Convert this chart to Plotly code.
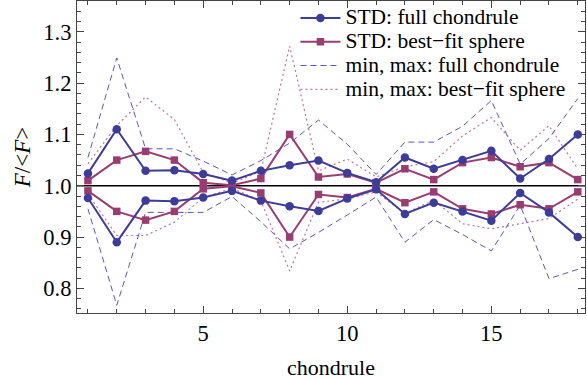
import plotly.graph_objects as go

# chondrule index
chondrule = list(range(1, 19))

# standard deviation of F/<F> (full chondrule vs best-fit sphere)
std_full = [0.024, 0.110, 0.029, 0.030, 0.023, 0.010, 0.029, 0.040, 0.049,
            0.025, 0.007, 0.055, 0.033, 0.050, 0.068, 0.014, 0.052, 0.100]
std_sphere = [0.010, 0.050, 0.067, 0.050, 0.006, 0.001, 0.014, 0.100, 0.017,
              0.023, 0.006, 0.033, 0.012, 0.045, 0.055, 0.037, 0.045, 0.012]

# extreme values of F/<F>
max_full = [1.055, 1.249, 1.072, 1.072, 1.048, 1.021, 1.049, 1.083, 1.128,
            1.081, 1.022, 1.085, 1.085, 1.116, 1.166, 1.042, 1.092, 1.170]
min_full = [0.955, 0.767, 0.948, 0.948, 0.948, 0.979, 0.930, 0.877, 0.909,
            0.943, 0.978, 0.890, 0.934, 0.905, 0.873, 0.962, 0.819, 0.837]
max_sphere = [1.043, 1.117, 1.173, 1.129, 1.026, 1.005, 1.028, 1.272, 1.029,
              1.052, 1.017, 1.037, 1.047, 1.097, 1.133, 1.069, 1.117, 1.033]
min_sphere = [0.984, 0.903, 0.903, 0.929, 0.977, 0.995, 0.971, 0.834, 0.968,
              0.974, 0.988, 0.946, 0.972, 0.926, 0.916, 0.926, 0.936, 0.974]

legend_names = ["STD: full chondrule", "STD: best\u2212fit sphere",
                "min, max: full chondrule", "min, max: best\u2212fit sphere"]

BLUE = "#3d3d99"
PURPLE = "#993d71"
FONT = "Liberation Serif"


def entry(label):
    # larger glyphs inside a compact legend row
    return '<span style="font-size:21.5px">' + label + "</span>"


fig = go.Figure()

# min/max envelopes
for i, ys in enumerate([max_full, min_full]):
    fig.add_trace(go.Scatter(
        x=chondrule, y=ys, mode="lines", name=entry(legend_names[2]),
        legendgroup="mmfull", showlegend=(i == 0), legendrank=3,
        line=dict(color="rgba(58,58,170,0.85)", width=1, dash="6px,4px")))
for i, ys in enumerate([max_sphere, min_sphere]):
    fig.add_trace(go.Scatter(
        x=chondrule, y=ys, mode="lines", name=entry(legend_names[3]),
        legendgroup="mmsph", showlegend=(i == 0), legendrank=4,
        line=dict(color="rgba(170,70,125,0.75)", width=1.2, dash="2px,3px")))

# 1 +/- sigma curves
for i, sgn in enumerate([1, -1]):
    fig.add_trace(go.Scatter(
        x=chondrule, y=[1 + sgn * s for s in std_sphere], mode="lines+markers",
        name=entry(legend_names[1]), legendgroup="stdsph", showlegend=(i == 0),
        legendrank=2, line=dict(color=PURPLE, width=2),
        marker=dict(symbol="square", size=7.5, color=PURPLE)))
for i, sgn in enumerate([1, -1]):
    fig.add_trace(go.Scatter(
        x=chondrule, y=[1 + sgn * s for s in std_full], mode="lines+markers",
        name=entry(legend_names[0]), legendgroup="stdfull", showlegend=(i == 0),
        legendrank=1, line=dict(color=BLUE, width=2),
        marker=dict(symbol="circle", size=8.5, color=BLUE)))

fig.add_hline(y=1.0, line=dict(color="black", width=1.3), layer="below")

axis_common = dict(
    showgrid=False, zeroline=False, showline=True, linecolor="#444",
    linewidth=1.2, mirror="allticks", ticks="inside", tickcolor="#444",
    tickfont=dict(family=FONT, size=22.5, color="black"),
)

fig.update_xaxes(
    range=[0.62, 18.25], tickmode="array", tickvals=[5, 10, 15], ticklen=7,
    minor=dict(ticks="inside", dtick=1, tick0=0, ticklen=4, tickcolor="#444"),
    title=dict(text="chondrule", font=dict(family=FONT, size=22, color="black"),
               standoff=14),
    **axis_common)
fig.update_yaxes(
    range=[0.752, 1.36], tickmode="array",
    tickvals=[0.8, 0.9, 1.0, 1.1, 1.2, 1.3], tickformat=".1f", ticklen=7,
    minor=dict(ticks="inside", dtick=0.02, tick0=0, ticklen=4, tickcolor="#444"),
    title=dict(text="<i>F</i>/&lt;<i>F</i>&gt;",
               font=dict(family=FONT, size=23, color="black"), standoff=6),
    **axis_common)

fig.update_layout(
    width=587, height=381,
    margin=dict(l=77, r=2, t=1, b=68),
    plot_bgcolor="white", paper_bgcolor="white",
    showlegend=True,
    legend=dict(x=0.43, y=1.0, xanchor="left", yanchor="top",
                bgcolor="rgba(255,255,255,0)", borderwidth=0,
                font=dict(family=FONT, size=16, color="black"),
                tracegroupgap=0, itemwidth=40),
)

fig.write_html("out.html")
